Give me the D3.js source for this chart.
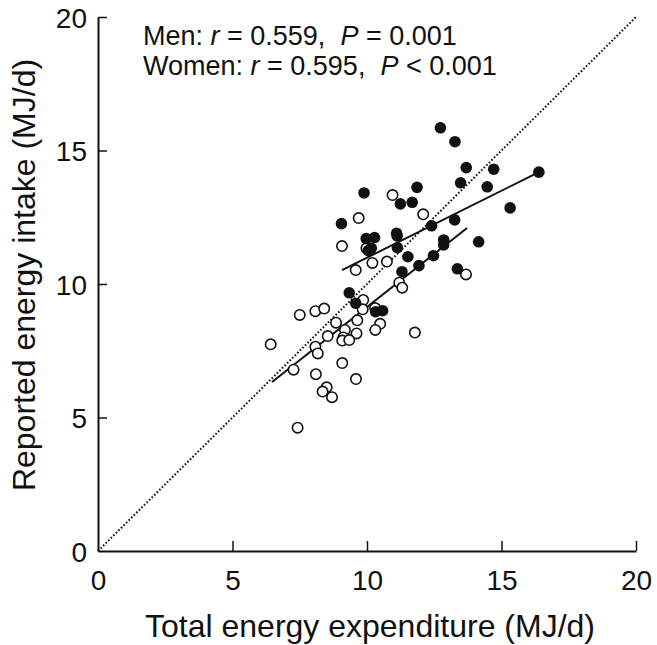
<!DOCTYPE html>
<html>
<head>
<meta charset="utf-8">
<script src="https://cdn.jsdelivr.net/npm/d3@7"></script>
<style>
  body { margin: 0; background: #fff; }
  svg text { font-family: "Liberation Sans", Arial, sans-serif; fill: #111; }
</style>
</head>
<body>
<div id="chart"></div>
<script>
// men (filled) - total energy expenditure vs reported intake, MJ/d
const menTEE = [12.73, 13.27, 13.69, 14.71, 13.48, 14.47, 11.86, 9.89, 11.24, 11.68, 15.32, 9.05, 13.26, 12.40, 11.10,
  9.97, 10.28, 11.12, 10.16, 10.05, 11.13, 12.85, 12.85, 14.15, 11.52, 12.47, 11.93, 11.30, 13.36, 9.34, 9.58, 10.32, 10.58, 16.39];
const menEI = [15.85, 15.33, 14.36, 14.30, 13.79, 13.64, 13.62, 13.41, 13.00, 13.06, 12.85, 12.26, 12.40, 12.18, 11.90,
  11.70, 11.74, 11.80, 11.34, 11.25, 11.36, 11.65, 11.46, 11.58, 11.02, 11.06, 10.69, 10.46, 10.57, 9.67, 9.28, 8.96, 9.00, 14.19];

// women (open)
const womenTEE = [10.95, 9.69, 12.09, 9.07, 9.98, 10.20, 10.74, 9.58, 13.68, 11.20, 11.31, 9.86, 9.84, 10.30, 7.50, 8.08, 8.41,
  8.85, 9.64, 10.49, 10.31, 9.18, 8.54, 9.61, 9.12, 9.08, 9.34, 6.42, 8.08, 8.17, 7.27, 9.08, 8.10, 9.59, 8.50, 8.35, 8.70, 7.42, 11.78];
const womenEI = [13.33, 12.47, 12.61, 11.42, 11.34, 10.79, 10.84, 10.52, 10.36, 10.05, 9.86, 9.40, 9.05, 9.10, 8.84, 8.98, 9.08,
  8.55, 8.64, 8.51, 8.28, 8.28, 8.05, 8.15, 8.00, 7.88, 7.90, 7.74, 7.65, 7.40, 6.79, 7.04, 6.62, 6.44, 6.13, 5.97, 5.76, 4.62, 8.18];

// regression line end points [x, y]
const menFit = [[9.07, 10.52], [16.39, 14.19]];
const womenFit = [[6.47, 6.33], [13.72, 12.10]];
const identity = [[0, 0], [20, 20]];

const ticks = [0, 5, 10, 15, 20];

const margin = {top: 17, right: 21, bottom: 94, left: 98},
  width = 657 - margin.left - margin.right,
  height = 645 - margin.top - margin.bottom;

const svg = d3.select('#chart')
  .append('svg')
  .attr('width', 657)
  .attr('height', 645)
  .append('g')
  .attr('transform', 'translate(' + margin.left + ',' + margin.top + ')');

const x = d3.scaleLinear().domain([0, 20]).range([0, width]);
const y = d3.scaleLinear().domain([0, 20]).range([height, 0]);

// axes, ticks pointing inward
const xAxis = svg.append('g')
  .attr('transform', 'translate(0,' + height + ')')
  .call(d3.axisBottom(x).tickValues(ticks).tickSizeInner(-10).tickSizeOuter(0).tickPadding(22));
const yAxis = svg.append('g')
  .call(d3.axisLeft(y).tickValues(ticks).tickSizeInner(-9).tickSizeOuter(0).tickPadding(11));

[xAxis, yAxis].forEach(a => {
  a.select('.domain').attr('stroke', '#111').attr('stroke-width', 2);
  a.selectAll('.tick line').attr('stroke', '#111').attr('stroke-width', 1.5);
  a.selectAll('.tick text').style('font-size', '28px').attr('fill', '#111');
});
xAxis.selectAll('.tick text').attr('dy', '0.62em');
yAxis.selectAll('.tick text').attr('dy', '0.36em');
// no tick marks at the origin
xAxis.selectAll('.tick').filter(d => d === 0).select('line').remove();
yAxis.selectAll('.tick').filter(d => d === 0).select('line').remove();

const line = d3.line().x(d => x(d[0])).y(d => y(d[1]));

svg.append('path')
  .datum(identity)
  .attr('d', line)
  .attr('fill', 'none')
  .attr('stroke', '#111')
  .attr('stroke-width', 2)
  .attr('stroke-dasharray', '1.6,2.0');

[menFit, womenFit].forEach(f => {
  svg.append('path')
    .datum(f)
    .attr('d', line)
    .attr('fill', 'none')
    .attr('stroke', '#111')
    .attr('stroke-width', 2);
});

svg.append('g')
  .selectAll('circle')
  .data(d3.zip(womenTEE, womenEI))
  .enter()
  .append('circle')
  .attr('cx', d => x(d[0]))
  .attr('cy', d => y(d[1]))
  .attr('r', 5.2)
  .attr('fill', '#fff')
  .attr('stroke', '#111')
  .attr('stroke-width', 1.6);

svg.append('g')
  .selectAll('circle')
  .data(d3.zip(menTEE, menEI))
  .enter()
  .append('circle')
  .attr('cx', d => x(d[0]))
  .attr('cy', d => y(d[1]))
  .attr('r', 5.8)
  .attr('fill', '#111');

// stats annotation
const stats = [
  ['Men: ', '0.559', '= 0.001'],
  ['Women: ', '0.595', '< 0.001']
];
stats.forEach((s, i) => {
  const t = svg.append('text')
    .attr('x', 45)
    .attr('y', 28 + i * 30)
    .attr('xml:space', 'preserve')
    .style('font-size', '27px');
  t.append('tspan').text(s[0]);
  t.append('tspan').style('font-style', 'italic').text('r');
  t.append('tspan').text(' = ' + s[1] + ',  ');
  t.append('tspan').style('font-style', 'italic').text('P');
  t.append('tspan').text(' ' + s[2]);
});

svg.append('text')
  .attr('x', width / 2 + 3)
  .attr('y', height + 86)
  .attr('text-anchor', 'middle')
  .style('font-size', '32px')
  .text('Total energy expenditure (MJ/d)');

svg.append('text')
  .attr('transform', 'rotate(-90)')
  .attr('x', -258)
  .attr('y', -63)
  .attr('text-anchor', 'middle')
  .style('font-size', '32px')
  .text('Reported energy intake (MJ/d)');
</script>
</body>
</html>
